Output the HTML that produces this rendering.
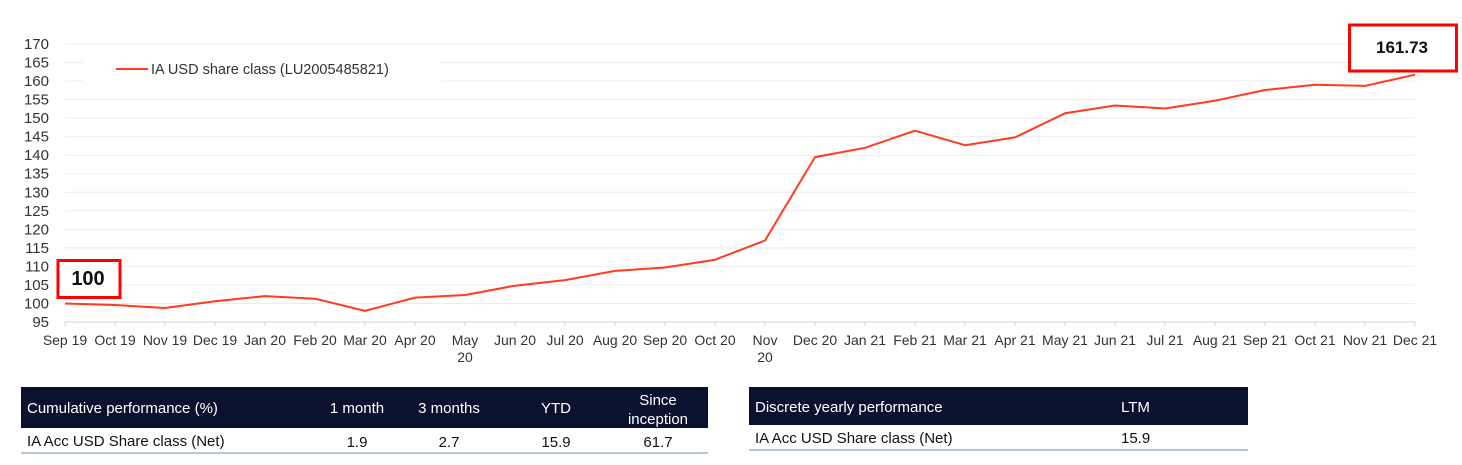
<!DOCTYPE html>
<html><head><meta charset="utf-8"><style>
body{margin:0;background:#fff;width:1462px;height:465px;overflow:hidden;font-family:"Liberation Sans",sans-serif;}
svg{position:absolute;left:0;top:0}
</style></head><body>
<svg width="1462" height="465" xmlns="http://www.w3.org/2000/svg" font-family="Liberation Sans, sans-serif">
<g stroke="#ececec" stroke-width="1">
<line x1="65" x2="1415" y1="44" y2="44"/><line x1="65" x2="1415" y1="62.5" y2="62.5"/><line x1="65" x2="1415" y1="81" y2="81"/><line x1="65" x2="1415" y1="99.6" y2="99.6"/><line x1="65" x2="1415" y1="118.1" y2="118.1"/><line x1="65" x2="1415" y1="136.7" y2="136.7"/><line x1="65" x2="1415" y1="155.2" y2="155.2"/><line x1="65" x2="1415" y1="173.7" y2="173.7"/><line x1="65" x2="1415" y1="192.3" y2="192.3"/><line x1="65" x2="1415" y1="210.8" y2="210.8"/><line x1="65" x2="1415" y1="229.4" y2="229.4"/><line x1="65" x2="1415" y1="247.9" y2="247.9"/><line x1="65" x2="1415" y1="266.4" y2="266.4"/><line x1="65" x2="1415" y1="285" y2="285"/><line x1="65" x2="1415" y1="303.5" y2="303.5"/>
</g>
<line x1="65" x2="1415" y1="322" y2="322" stroke="#d0d0d0"/>
<g stroke="#d0d0d0"><path d="M65 322v4M115 322v4M165 322v4M215 322v4M265 322v4M315 322v4M365 322v4M415 322v4M465 322v4M515 322v4M565 322v4M615 322v4M665 322v4M715 322v4M765 322v4M815 322v4M865 322v4M915 322v4M965 322v4M1015 322v4M1065 322v4M1115 322v4M1165 322v4M1215 322v4M1265 322v4M1315 322v4M1365 322v4M1415 322v4"/></g>
<rect x="83" y="52" width="358" height="36" fill="#fff"/>
<line x1="116" x2="148" y1="69" y2="69" stroke="#ff3b20" stroke-width="2"/>
<text x="151" y="74" font-size="14.5" fill="#333">IA USD share class (LU2005485821)</text>
<g font-size="15" fill="#333" text-anchor="end">
<text x="49" y="49">170</text><text x="49" y="67.5">165</text><text x="49" y="86">160</text><text x="49" y="104.6">155</text><text x="49" y="123.1">150</text><text x="49" y="141.7">145</text><text x="49" y="160.2">140</text><text x="49" y="178.7">135</text><text x="49" y="197.3">130</text><text x="49" y="215.8">125</text><text x="49" y="234.4">120</text><text x="49" y="252.9">115</text><text x="49" y="271.4">110</text><text x="49" y="290">105</text><text x="49" y="308.5">100</text><text x="49" y="327">95</text>
</g>
<g font-size="14" fill="#333" text-anchor="middle">
<text x="65" y="345">Sep 19</text><text x="115" y="345">Oct 19</text><text x="165" y="345">Nov 19</text><text x="215" y="345">Dec 19</text><text x="265" y="345">Jan 20</text><text x="315" y="345">Feb 20</text><text x="365" y="345">Mar 20</text><text x="415" y="345">Apr 20</text><text x="465" y="345">May</text><text x="465" y="362">20</text><text x="515" y="345">Jun 20</text><text x="565" y="345">Jul 20</text><text x="615" y="345">Aug 20</text><text x="665" y="345">Sep 20</text><text x="715" y="345">Oct 20</text><text x="765" y="345">Nov</text><text x="765" y="362">20</text><text x="815" y="345">Dec 20</text><text x="865" y="345">Jan 21</text><text x="915" y="345">Feb 21</text><text x="965" y="345">Mar 21</text><text x="1015" y="345">Apr 21</text><text x="1065" y="345">May 21</text><text x="1115" y="345">Jun 21</text><text x="1165" y="345">Jul 21</text><text x="1215" y="345">Aug 21</text><text x="1265" y="345">Sep 21</text><text x="1315" y="345">Oct 21</text><text x="1365" y="345">Nov 21</text><text x="1415" y="345">Dec 21</text>
</g>
<polyline fill="none" stroke="#ff3b20" stroke-width="2" stroke-linejoin="round" points="65,303.5 115,305 165,308 215,301.3 265,296.1 315,298.7 365,310.9 415,297.6 465,295 515,285.7 565,280.1 615,270.9 665,267.5 715,259.7 765,240.5 815,157.1 865,147.8 915,130.7 965,145.2 1015,137.4 1065,113.3 1115,105.5 1165,108.5 1215,100.7 1265,90 1315,84.8 1365,85.9 1415,74.7"/>
<rect x="58" y="260.5" width="62" height="37" fill="#fff" stroke="#ff0000" stroke-width="3"/>
<text x="88" y="285" font-size="20" font-weight="bold" fill="#111" text-anchor="middle">100</text>
<rect x="1349.5" y="25" width="107" height="46" fill="#fff" stroke="#ff0000" stroke-width="3"/>
<text x="1402" y="53" font-size="17" font-weight="bold" fill="#111" text-anchor="middle">161.73</text>
<rect x="21" y="387" width="687" height="41" fill="#0b1230"/>
<g font-size="15" fill="#fff">
<text x="27" y="413">Cumulative performance (%)</text>
<text x="357" y="413" text-anchor="middle">1 month</text>
<text x="449" y="413" text-anchor="middle">3 months</text>
<text x="556" y="413" text-anchor="middle">YTD</text>
<text x="658" y="405" text-anchor="middle">Since</text>
<text x="658" y="424" text-anchor="middle">inception</text>
</g>
<g font-size="15" fill="#111">
<text x="27" y="446">IA Acc USD Share class (Net)</text>
<text x="357" y="447" text-anchor="middle">1.9</text>
<text x="449" y="447" text-anchor="middle">2.7</text>
<text x="556" y="447" text-anchor="middle">15.9</text>
<text x="658" y="447" text-anchor="middle">61.7</text>
</g>
<line x1="21" x2="708" y1="453" y2="453" stroke="#9fb3cc" stroke-width="1.5"/>
<rect x="749" y="387" width="499" height="38" fill="#0b1230"/>
<text x="755" y="412" font-size="15" fill="#fff">Discrete yearly performance</text>
<text x="1121" y="412" font-size="15" fill="#fff">LTM</text>
<text x="755" y="443" font-size="15" fill="#111">IA Acc USD Share class (Net)</text>
<text x="1121" y="443" font-size="15" fill="#111">15.9</text>
<line x1="749" x2="1248" y1="450" y2="450" stroke="#9fb3cc" stroke-width="1.5"/>
</svg>
</body></html>
